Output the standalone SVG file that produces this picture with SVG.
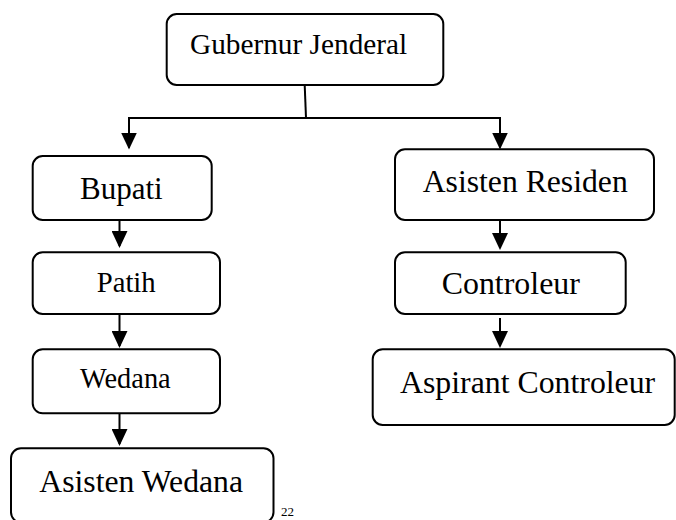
<svg xmlns="http://www.w3.org/2000/svg" width="676" height="520" viewBox="0 0 676 520">
<style>
.box{fill:#fff;stroke:#000;stroke-width:2}
.lbl{font-family:"Liberation Serif","Times New Roman",serif;fill:#000}
.con{stroke:#000;stroke-width:2;fill:none}
</style>
<defs>
<marker id="arr" viewBox="0 0 17 16" refX="15" refY="8" markerWidth="17" markerHeight="16" markerUnits="userSpaceOnUse" orient="auto">
<path d="M0,0 L17,8 L0,16 z" fill="#000"/>
</marker>
</defs>
<rect width="676" height="520" fill="#fff"/>
<g id="connectors">
<line class="con" x1="304.7" y1="85" x2="306" y2="118"/>
<polyline class="con" points="129,147.5 129,118 500,118 500,147.5" marker-end="url(#arr)"/>
<line class="con" x1="129" y1="118" x2="129" y2="147.5" marker-end="url(#arr)"/>
<line class="con" x1="119.5" y1="220" x2="119.5" y2="246" marker-end="url(#arr)"/>
<line class="con" x1="119.5" y1="314" x2="119.5" y2="346" marker-end="url(#arr)"/>
<line class="con" x1="119.5" y1="413" x2="119.5" y2="444" marker-end="url(#arr)"/>
<line class="con" x1="500" y1="220" x2="500" y2="248" marker-end="url(#arr)"/>
<line class="con" x1="500" y1="318" x2="500" y2="346" marker-end="url(#arr)"/>
</g>
<g id="gubernur">
<rect class="box" x="166.7" y="14" width="276.6" height="71" rx="10"/>
<text class="lbl" x="190" y="54" font-size="29.3">Gubernur Jenderal</text>
</g>
<g id="bupati">
<rect class="box" x="32.7" y="156" width="179" height="64" rx="10"/>
<text class="lbl" x="80" y="199" font-size="31">Bupati</text>
</g>
<g id="patih">
<rect class="box" x="32.7" y="252.3" width="187.3" height="61.7" rx="10"/>
<text class="lbl" x="96.7" y="291.7" font-size="28.7">Patih</text>
</g>
<g id="wedana">
<rect class="box" x="32.7" y="349.3" width="187.3" height="64" rx="10"/>
<text class="lbl" x="80" y="388.3" font-size="28.4">Wedana</text>
</g>
<g id="asisten-wedana">
<rect class="box" x="11" y="448.3" width="262.5" height="74" rx="10"/>
<text class="lbl" x="39.3" y="491.7" font-size="31.7">Asisten Wedana</text>
</g>
<g id="asisten-residen">
<rect class="box" x="395" y="149.3" width="259" height="70.7" rx="10"/>
<text class="lbl" x="422.7" y="191.7" font-size="31.7">Asisten Residen</text>
</g>
<g id="controleur">
<rect class="box" x="395" y="252.3" width="230.7" height="61.7" rx="10"/>
<text class="lbl" x="441.7" y="294.3" font-size="31.9">Controleur</text>
</g>
<g id="aspirant-controleur">
<rect class="box" x="372.7" y="349.3" width="302" height="75.7" rx="10"/>
<text class="lbl" x="400" y="392.7" font-size="31.8">Aspirant Controleur</text>
</g>
<text class="lbl" x="281" y="516" font-size="13">22</text>
</svg>
